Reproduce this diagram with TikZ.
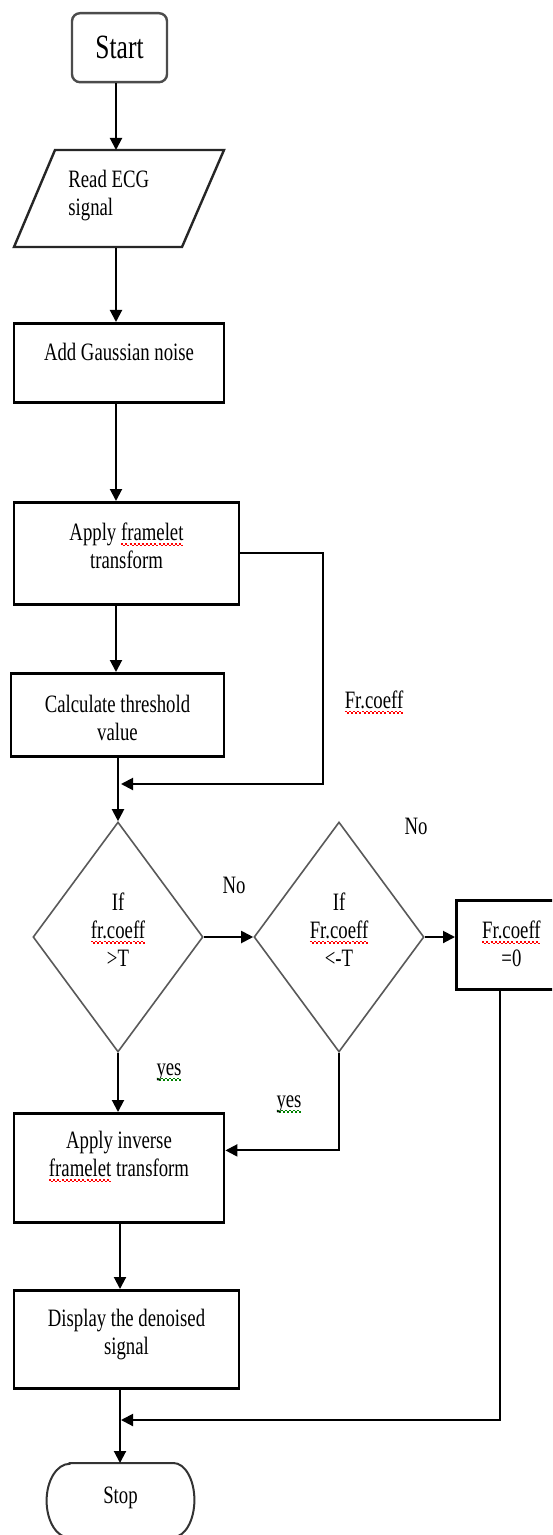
\documentclass[tikz,border=0pt]{standalone}
\usepackage{fontspec}
\setmainfont{Liberation Serif}[FakeStretch=0.75]
\usetikzlibrary{arrows.meta,shapes.geometric}
\newcommand\wavebox[1]{\hbox to 2pt{\textcolor{#1}{\rule[-2.2pt]{1pt}{0.7pt}\rule[-2.9pt]{1pt}{0.7pt}}}}
\newcommand\squig[2]{\setbox0\hbox{#2}\rlap{\hbox to\wd0{\xleaders\wavebox{#1}\hfill}}\box0}
\newcommand\rwave[1]{\squig{red}{#1}}
\newcommand\gwave[1]{\squig{green!50!black}{#1}}
\newcommand\mytab[2][c]{\begin{tabular}[t]{@{}#1@{}}#2\end{tabular}}
\begin{document}
\begin{tikzpicture}[x=0.5pt,y=-0.5pt,
  every node/.style={font=\fontsize{12.5}{14}\selectfont, inner sep=0pt},
  procbox/.style={draw, line width=1.4pt, anchor=north, minimum width=#1},
  dec/.style={diamond, draw=black!65, line width=0.8pt, minimum width=85pt,
    minimum height=115pt, text height=10pt, text depth=37pt},
  ln/.style={line width=1pt},
  arr/.style={line width=1pt, -{Triangle[length=6pt,width=6pt]}}]
\useasboundingbox (0,0) rectangle (552,1535);
\fill[white] (0,0) rectangle (552,1535);
\clip (0,0) rectangle (552,1535);

% nodes
\node[procbox=47.5pt, draw=black!70, line width=1.2pt, rounded corners=4pt,
  text height=22.5pt, text depth=12pt, font=\fontsize{17}{20}\selectfont]
  (start) at (119.5,12) {Start};
\node[anchor=north west, text height=18.5pt, text depth=30pt]
  (read) at (68,150) {\mytab[l]{Read ECG\\signal}};
\draw[line width=1.2pt, black!85] (55,150) -- (224,150) -- (182,247) -- (14,247) -- cycle;
\node[procbox=105pt, text height=18.5pt, text depth=21pt]
  (add) at (119,322) {Add Gaussian noise};
\node[procbox=112.5pt, text height=19pt, text depth=32pt]
  (apply) at (126.5,501) {\mytab{Apply \rwave{framelet}\\transform}};
\node[procbox=106.5pt, text height=19.5pt, text depth=22pt]
  (calc) at (117.5,672) {\mytab{Calculate threshold\\value}};
\node[dec] (d1) at (118,937) {\mytab{If\\\rwave{fr.coeff}\\>T}};
\node[dec] (d2) at (339,937) {\mytab{If\\\rwave{Fr.coeff}\\<-T}};
\node[procbox=55pt, anchor=north west, text height=19pt, text depth=25.5pt]
  (zero) at (455,899) {\mytab{\rwave{Fr.coeff}\\=0}};
\node[procbox=105pt, text height=17.5pt, text depth=37pt]
  (inv) at (119,1112) {\mytab{Apply inverse\\\rwave{framelet}\ transform}};
\node[procbox=112.5pt, text height=18pt, text depth=31pt]
  (disp) at (126.5,1289) {\mytab{Display the denoised\\signal}};
\node[anchor=north, minimum width=73.5pt, text height=20pt, text depth=17pt]
  (stop) at (120.5,1463) {Stop};
\draw[line width=1pt, black!80] ([xshift=11.5pt]stop.north west) -- ([xshift=-10.5pt]stop.north east)
  arc[start angle=90, end angle=-90, x radius=10.5pt, y radius=18.5pt]
  -- ([xshift=11.5pt]stop.south west)
  arc[start angle=270, end angle=90, x radius=11.5pt, y radius=18.5pt] -- cycle;

% labels
\node[anchor=base] (no1) at (234,893) {No};
\node[anchor=base] (no2) at (416,834) {No};
\node[anchor=base] (frl) at (374,708) {\rwave{Fr.coeff}};
\node[anchor=base] (yes1) at (169,1075) {\gwave{yes}};
\node[anchor=base] (yes2) at (289,1107) {\gwave{yes}};

% coordinates
\coordinate (sp) at (116,0);
\coordinate (sq) at (120,0);
\coordinate (c1) at (323,784);
\coordinate (m1) at (121,784);
\coordinate (c2) at (500,1420);
\coordinate (m2) at (121,1420);

% connectors
\draw[arr] (start.south -| sp) -- (read.north -| sp);
\draw[arr] (read.south -| sp) -- (add.north -| sp);
\draw[arr] (add.south -| sp) -- (apply.north -| sp);
\draw[arr] (apply.south -| sp) -- (calc.north -| sp);
\draw[arr] (apply.east) -| (c1) -- (m1);
\draw[arr] (calc.south -| d1.north) -- (d1.north);
\draw[arr] (d1.east) -- (d2.west);
\draw[arr] (d2.east) -- (d2.east -| zero.west);
\draw[arr] (d1.south) -- (inv.north -| d1.south);
\draw[arr] (d2.south) |- ([yshift=8.75pt]inv.east);
\draw[arr] (zero.south -| c2) -- (c2) -- (m2);
\draw[arr] (inv.south -| sq) -- (disp.north -| sq);
\draw[arr] (disp.south -| sq) -- (stop.north -| sq);
\end{tikzpicture}
\end{document}
